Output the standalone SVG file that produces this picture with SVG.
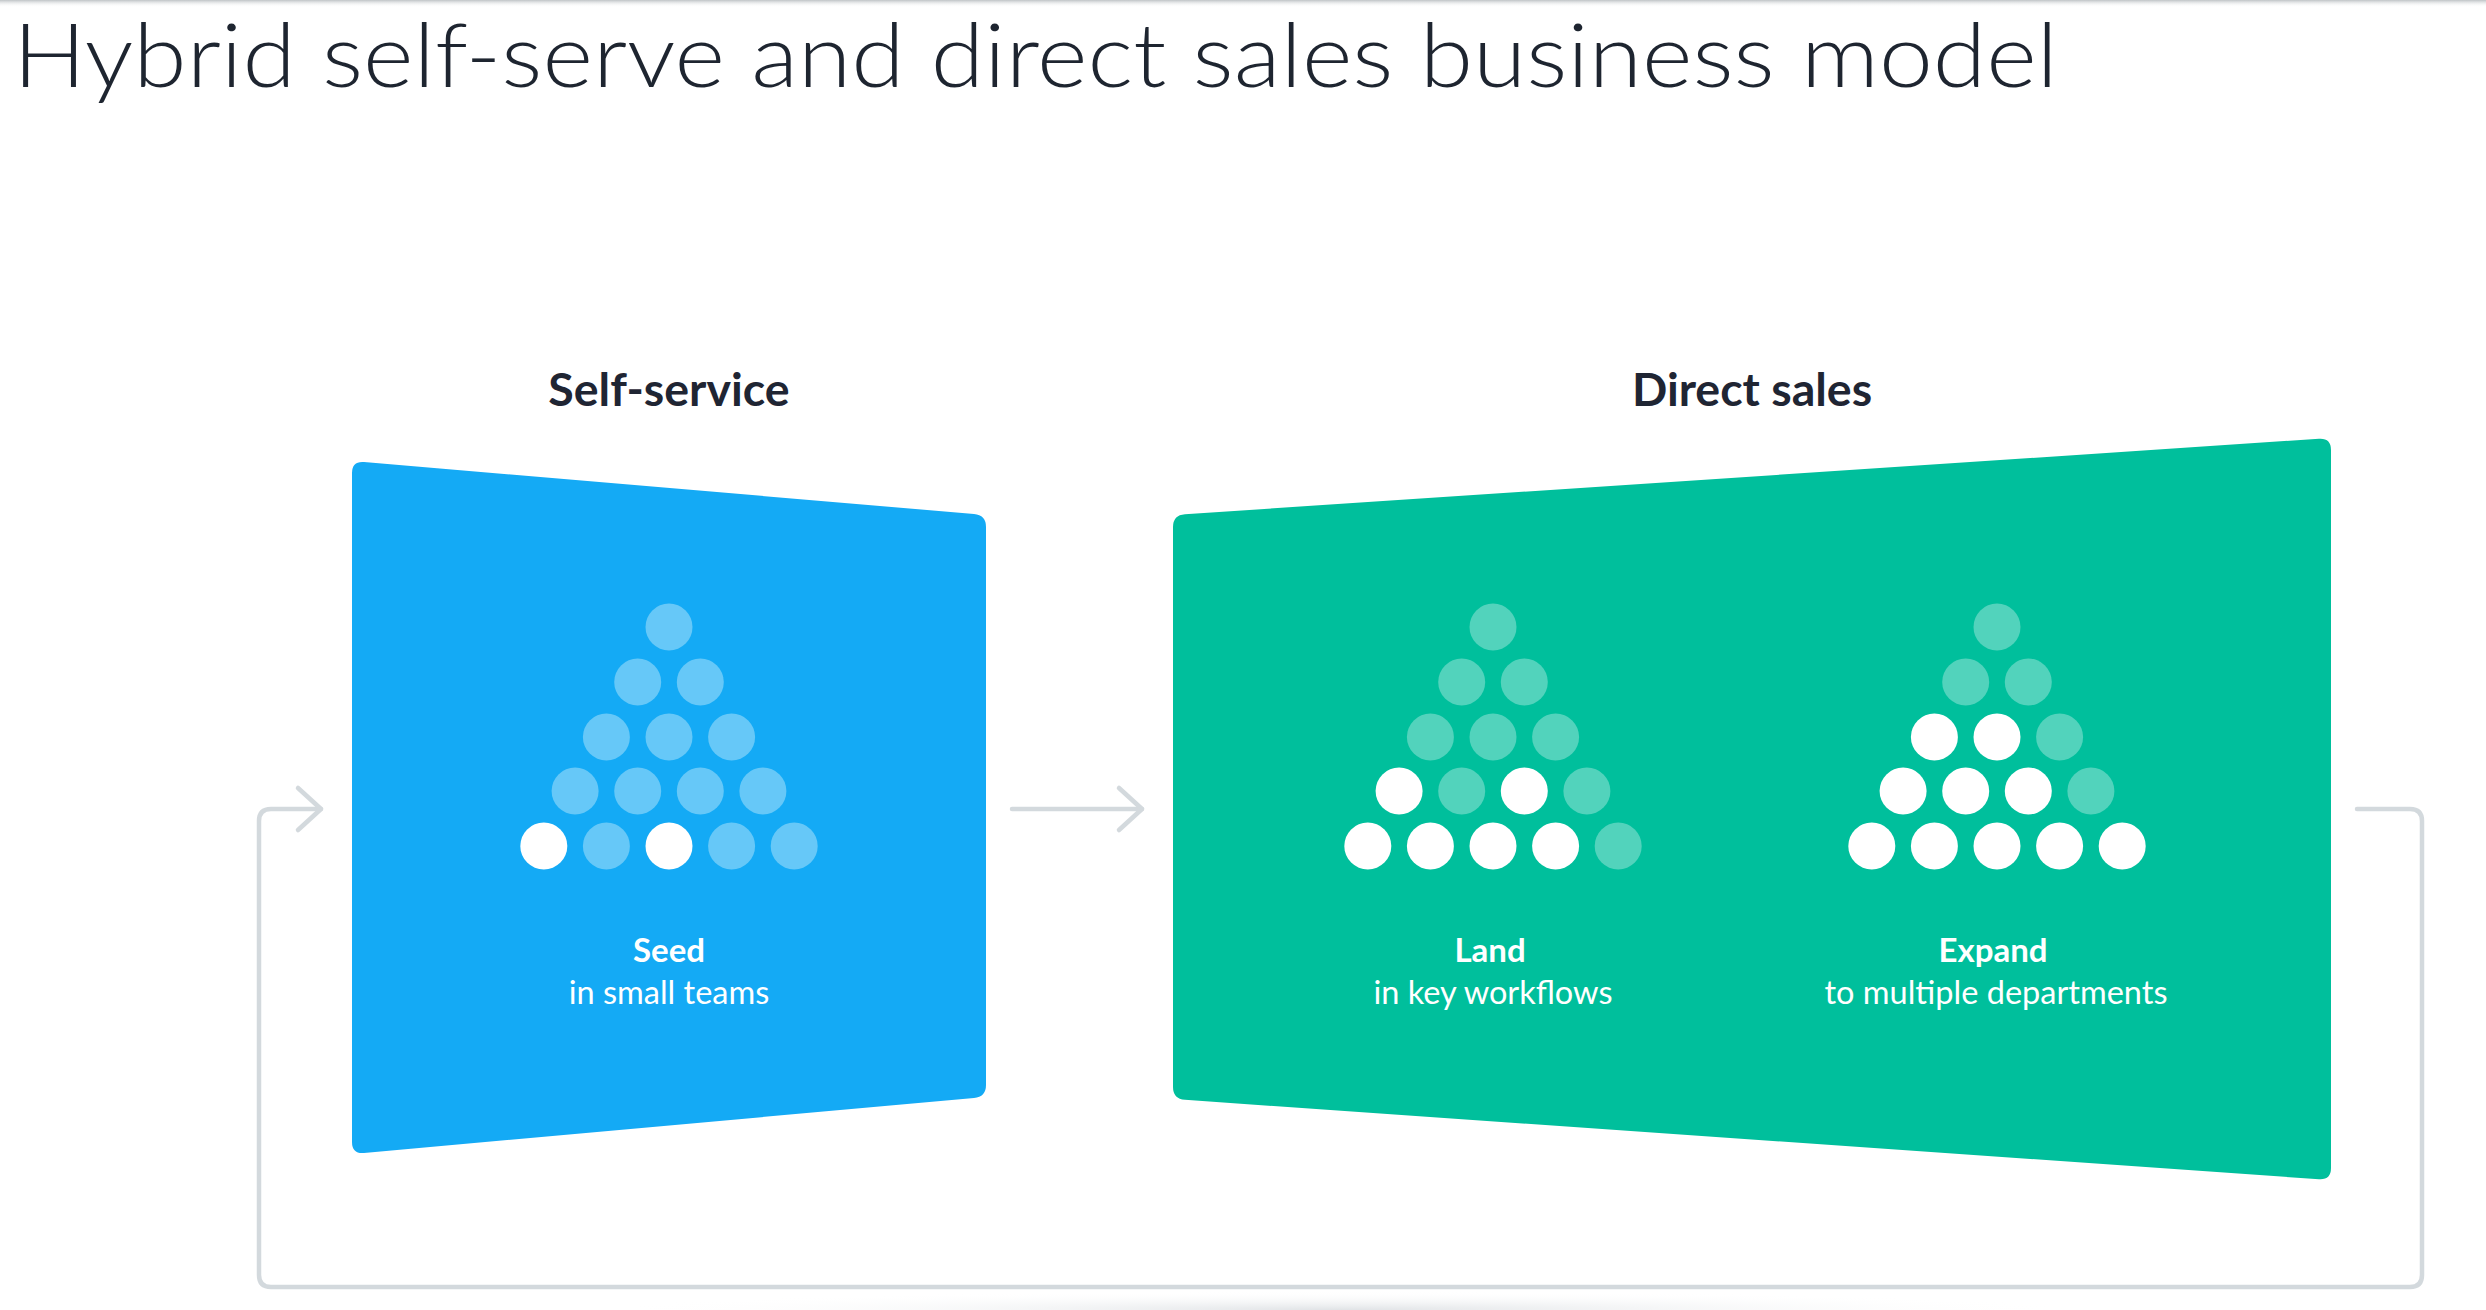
<svg xmlns="http://www.w3.org/2000/svg" width="2486" height="1310" viewBox="0 0 2486 1310">
  <defs>
    <linearGradient id="topShade" x1="0" y1="0" x2="0" y2="1">
      <stop offset="0" stop-color="#bfc3c6"/>
      <stop offset="1" stop-color="#ffffff" stop-opacity="0"/>
    </linearGradient>
    <radialGradient id="bottomShade" cx="0.5" cy="1" r="0.5">
      <stop offset="0" stop-color="#e0e3e6"/>
      <stop offset="1" stop-color="#ffffff" stop-opacity="0"/>
    </radialGradient>
    <marker id="chev" markerUnits="userSpaceOnUse" markerWidth="60" markerHeight="60" viewBox="-30 -30 60 60" refX="0" refY="0" orient="auto" overflow="visible">
      <path d="M-23,-21 L0,0 L-23,21" fill="none" stroke="#d3d9dd" stroke-width="4.5" stroke-linecap="round" stroke-linejoin="round"/>
    </marker>
    <style>
      .title { font-family: Lato, "Liberation Sans", sans-serif; font-weight: 300; font-size: 88px; fill: #1e2530; }
      .head { font-family: Lato, "Liberation Sans", sans-serif; font-weight: 700; font-size: 46.5px; fill: #1f2533; text-anchor: middle; }
      .lbl { font-family: Lato, "Liberation Sans", sans-serif; font-weight: 700; font-size: 33px; fill: #ffffff; text-anchor: middle; }
      .sub { font-family: Lato, "Liberation Sans", sans-serif; font-weight: 400; font-size: 32.5px; fill: #ffffff; text-anchor: middle; }
      .conn { fill: none; stroke: #d3d9dd; stroke-width: 4.5; stroke-linecap: round; stroke-linejoin: round; }
      .w { fill: #ffffff; }
      .lb { fill: #66c8f8; }
      .lg { fill: #52d3bc; }
    </style>
  </defs>

  <rect x="0" y="0" width="2486" height="1310" fill="#ffffff"/>
  <rect x="0" y="0" width="2486" height="7" fill="url(#topShade)"/>
  <rect x="600" y="1272" width="1480" height="38" fill="url(#bottomShade)"/>

  <text class="title" x="13" y="87" textLength="2045" lengthAdjust="spacingAndGlyphs">Hybrid self-serve and direct sales business model</text>

  <text class="head" x="669" y="406">Self-service</text>
  <text class="head" x="1752" y="406">Direct sales</text>

  <g id="connectors">
    <path class="conn" d="M1012,809 L1142,809" marker-end="url(#chev)"/>
    <path class="conn" d="M2357,809 L2410,809 Q2422,809 2422,821 L2422,1275 Q2422,1287 2410,1287 L271,1287 Q259,1287 259,1275 L259,821 Q259,809 271,809 L321,809" marker-end="url(#chev)"/>
  </g>

  <g id="self-service">
    <path d="M352,473 Q352,461 364,462 L974,514 Q986,515 986,527 L986,1085 Q986,1097 974,1098 L364,1153 Q352,1154 352,1142 Z" fill="#14aaf5"/>
    <g id="seed-pyramid">
      <circle class="lb" cx="669" cy="627" r="23.5"/>
      <circle class="lb" cx="637.7" cy="682" r="23.5"/>
      <circle class="lb" cx="700.3" cy="682" r="23.5"/>
      <circle class="lb" cx="606.4" cy="737" r="23.5"/>
      <circle class="lb" cx="669" cy="737" r="23.5"/>
      <circle class="lb" cx="731.6" cy="737" r="23.5"/>
      <circle class="lb" cx="575.1" cy="791" r="23.5"/>
      <circle class="lb" cx="637.7" cy="791" r="23.5"/>
      <circle class="lb" cx="700.3" cy="791" r="23.5"/>
      <circle class="lb" cx="762.9" cy="791" r="23.5"/>
      <circle class="w" cx="543.8" cy="846" r="23.5"/>
      <circle class="lb" cx="606.4" cy="846" r="23.5"/>
      <circle class="w" cx="669" cy="846" r="23.5"/>
      <circle class="lb" cx="731.6" cy="846" r="23.5"/>
      <circle class="lb" cx="794.2" cy="846" r="23.5"/>
    </g>
    <text class="lbl" x="669" y="962">Seed</text>
    <text class="sub" x="669" y="1004">in small teams</text>
  </g>

  <g id="direct-sales">
    <path d="M1173,527 Q1173,515 1185,514.2 L2319,438.8 Q2331,438 2331,450 L2331,1168 Q2331,1180 2319,1179.2 L1185,1099.8 Q1173,1099 1173,1087 Z" fill="#00bf9c"/>
    <g id="land">
      <circle class="lg" cx="1493" cy="627" r="23.5"/>
      <circle class="lg" cx="1461.7" cy="682" r="23.5"/>
      <circle class="lg" cx="1524.3" cy="682" r="23.5"/>
      <circle class="lg" cx="1430.4" cy="737" r="23.5"/>
      <circle class="lg" cx="1493" cy="737" r="23.5"/>
      <circle class="lg" cx="1555.6" cy="737" r="23.5"/>
      <circle class="w" cx="1399.1" cy="791" r="23.5"/>
      <circle class="lg" cx="1461.7" cy="791" r="23.5"/>
      <circle class="w" cx="1524.3" cy="791" r="23.5"/>
      <circle class="lg" cx="1586.9" cy="791" r="23.5"/>
      <circle class="w" cx="1367.8" cy="846" r="23.5"/>
      <circle class="w" cx="1430.4" cy="846" r="23.5"/>
      <circle class="w" cx="1493" cy="846" r="23.5"/>
      <circle class="w" cx="1555.6" cy="846" r="23.5"/>
      <circle class="lg" cx="1618.2" cy="846" r="23.5"/>
      <text class="lbl" x="1490" y="962">Land</text>
      <text class="sub" x="1493" y="1004">in key workflows</text>
    </g>
    <g id="expand">
      <circle class="lg" cx="1997" cy="627" r="23.5"/>
      <circle class="lg" cx="1965.7" cy="682" r="23.5"/>
      <circle class="lg" cx="2028.3" cy="682" r="23.5"/>
      <circle class="w" cx="1934.4" cy="737" r="23.5"/>
      <circle class="w" cx="1997" cy="737" r="23.5"/>
      <circle class="lg" cx="2059.6" cy="737" r="23.5"/>
      <circle class="w" cx="1903.1" cy="791" r="23.5"/>
      <circle class="w" cx="1965.7" cy="791" r="23.5"/>
      <circle class="w" cx="2028.3" cy="791" r="23.5"/>
      <circle class="lg" cx="2090.9" cy="791" r="23.5"/>
      <circle class="w" cx="1871.8" cy="846" r="23.5"/>
      <circle class="w" cx="1934.4" cy="846" r="23.5"/>
      <circle class="w" cx="1997" cy="846" r="23.5"/>
      <circle class="w" cx="2059.6" cy="846" r="23.5"/>
      <circle class="w" cx="2122.2" cy="846" r="23.5"/>
      <text class="lbl" x="1993" y="962">Expand</text>
      <text class="sub" x="1996" y="1004">to multiple departments</text>
    </g>
  </g>
</svg>
